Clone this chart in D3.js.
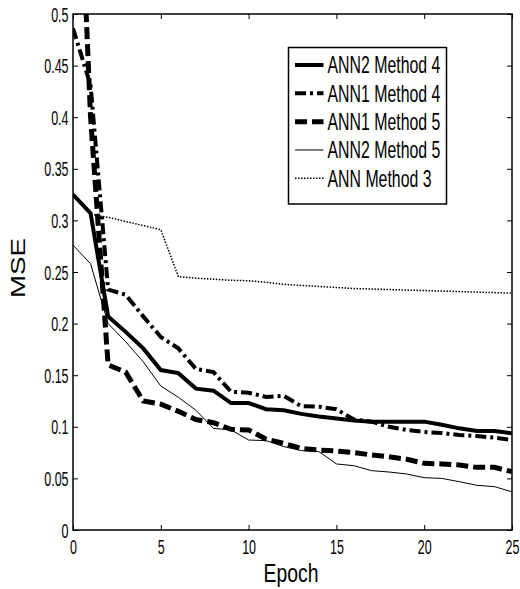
<!DOCTYPE html>
<html><head><meta charset="utf-8">
<script src="https://cdn.jsdelivr.net/npm/d3@7"></script>
<style>html,body{margin:0;padding:0;background:#fff;}svg{display:block;}</style>
</head><body>
<svg id="chart" width="520" height="589"></svg>
<script>
// ---- data ----
const epochs = [0,1,2,3,4,5,6,7,8,9,10,11,12,13,14,15,16,17,18,19,20,21,22,23,24,25];
const ann2Method4 = [0.325,0.307,0.207,0.192,0.176,0.155,0.152,0.137,0.135,0.123,0.123,0.117,0.116,0.1125,0.110,0.108,0.106,0.105,0.105,0.105,0.105,0.102,0.0985,0.096,0.096,0.0937];
const ann1Method4 = [0.486,0.431,0.233,0.228,0.207,0.187,0.176,0.156,0.153,0.134,0.133,0.129,0.130,0.120,0.1195,0.117,0.107,0.105,0.100,0.097,0.095,0.094,0.092,0.091,0.0895,0.0872];
const ann1Method5 = [0.80,0.40,0.160,0.153,0.125,0.122,0.115,0.107,0.104,0.0975,0.097,0.088,0.084,0.079,0.0775,0.0765,0.075,0.0727,0.071,0.0685,0.0646,0.064,0.063,0.0607,0.0607,0.0565];
const ann2Method5 = [0.276,0.258,0.200,0.1825,0.163,0.1395,0.1286,0.116,0.0985,0.097,0.0872,0.0866,0.0808,0.077,0.076,0.064,0.0623,0.0575,0.0562,0.0543,0.0507,0.050,0.0468,0.0433,0.042,0.037];
const annMethod3 = [0.325,0.306,0.303,0.299,0.295,0.291,0.2455,0.244,0.243,0.242,0.2415,0.240,0.238,0.237,0.236,0.235,0.234,0.2335,0.233,0.2325,0.232,0.2315,0.231,0.2305,0.230,0.2295];
const seriesNames = ["ANN2 Method 4","ANN1 Method 4","ANN1 Method 5","ANN2 Method 5","ANN Method 3"];
const xTicks = [0,5,10,15,20,25];
const yTicks = [0,0.05,0.1,0.15,0.2,0.25,0.3,0.35,0.4,0.45,0.5];
const xLabel = "Epoch", yLabel = "MSE";

// ---- layout ----
const L = 73, R = 512, T = 14, B = 530;
const svg = d3.select("#chart");
const font = "'Liberation Sans', Arial, sans-serif";
const x = d3.scaleLinear().domain([0,25]).range([L,R]);
const y = d3.scaleLinear().domain([0,0.5]).range([B,T]);

const styles = [
  {data: ann2Method4, w: 4, dash: null},
  {data: ann1Method4, w: 4, dash: "11,4,3,4"},
  {data: ann1Method5, w: 5, dash: "12,5"},
  {data: ann2Method5, w: 1, dash: null},
  {data: annMethod3, w: 1.5, dash: "1.5,1.5"}
];

svg.append("defs").append("clipPath").attr("id","clip")
  .append("rect").attr("x",L).attr("y",T).attr("width",R-L).attr("height",B-T);

const line = d3.line().x((d,i)=>x(epochs[i])).y(d=>y(d));
const plot = svg.append("g").attr("clip-path","url(#clip)");
// draw dotted first so thick lines sit on top
[4,3,2,1,0].forEach(k=>{
  const s = styles[k];
  plot.append("path").datum(s.data).attr("d",line)
    .attr("fill","none").attr("stroke","#000").attr("stroke-width",s.w)
    .attr("stroke-dasharray",s.dash).attr("stroke-linejoin","miter");
});

// ---- axes ----
const sx = 0.64, fs = 19.5;
const fmt = d=>String(+d.toFixed(2));
function styleAxis(g){
  g.select(".domain").remove();
  g.selectAll(".tick line").attr("stroke","#000").attr("stroke-width",1);
}
const gB = svg.append("g").attr("transform",`translate(0,${B})`)
  .call(d3.axisBottom(x).tickValues(xTicks).tickFormat(fmt).tickSizeInner(-5).tickSizeOuter(0).tickPadding(11));
styleAxis(gB);
gB.selectAll(".tick text").attr("font-family",font).attr("font-size",fs).attr("fill","#000")
  .attr("dy","0.71em").attr("y",10).attr("transform",`scale(${sx},1)`);
const gL = svg.append("g").attr("transform",`translate(${L},0)`)
  .call(d3.axisLeft(y).tickValues(yTicks).tickFormat(fmt).tickSizeInner(-5).tickSizeOuter(0));
styleAxis(gL);
gL.selectAll(".tick text").attr("font-family",font).attr("font-size",fs).attr("fill","#000")
  .attr("x",-4.5/sx).attr("dy","0.36em").attr("transform",`scale(${sx},1)`);
const gT = svg.append("g").attr("transform",`translate(0,${T})`)
  .call(d3.axisTop(x).tickValues(xTicks).tickFormat("").tickSizeInner(-5).tickSizeOuter(0));
styleAxis(gT);
const gR = svg.append("g").attr("transform",`translate(${R},0)`)
  .call(d3.axisRight(y).tickValues(yTicks).tickFormat("").tickSizeInner(-5).tickSizeOuter(0));
styleAxis(gR);
// frame
svg.append("rect").attr("x",L).attr("y",T).attr("width",R-L).attr("height",B-T)
  .attr("fill","none").attr("stroke","#000").attr("stroke-width",1.5);

// axis labels
svg.append("text").text(xLabel).attr("font-family",font).attr("font-size",26.5)
  .attr("text-anchor","middle").attr("transform",`translate(291,582) scale(0.73,1)`);
svg.append("text").text(yLabel).attr("font-family",font).attr("font-size",27.7)
  .attr("text-anchor","middle").attr("transform",`translate(25,268) rotate(-90) scale(1,0.757)`);

// ---- legend ----
const lg = svg.append("g");
lg.append("rect").attr("x",288.5).attr("y",47.5).attr("width",158).attr("height",156.5)
  .attr("fill","#fff").attr("stroke","#000").attr("stroke-width",1.5);
seriesNames.forEach((name,i)=>{
  const cy = 65 + i*28.33;
  const s = styles[i];
  lg.append("line").attr("x1",295).attr("x2",323.5).attr("y1",cy).attr("y2",cy)
    .attr("stroke","#000").attr("stroke-width",s.w).attr("stroke-dasharray",s.dash);
  lg.append("text").text(name).attr("font-family",font).attr("font-size",23)
    .attr("transform",`translate(327.5,${cy+8.3}) scale(0.69,1)`);
});
</script>
</body></html>
